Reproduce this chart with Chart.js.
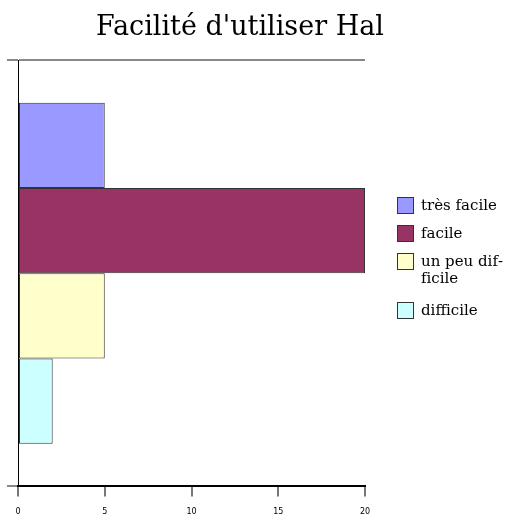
<!DOCTYPE html>
<html>
<head>
<meta charset="utf-8">
<title>Facilité d'utiliser Hal</title>
<script src="https://cdn.jsdelivr.net/npm/chart.js@4.4.1/dist/chart.umd.min.js"></script>
<style>
  body { margin: 0; background: #fff; overflow: hidden; }
  #wrap { position: relative; width: 523px; height: 515px; }
  #title {
    position: absolute; left: 0; top: 10px; width: 480px;
    text-align: center; font: 27px "DejaVu Serif", serif; color: #000;
  }
  #legend {
    position: absolute; left: 397px; top: 197px;
    font: 15px "DejaVu Serif", serif; color: #000; line-height: 17px;
  }
  .item { display: flex; align-items: flex-start; margin-bottom: 11px; }
  .item:nth-child(3) { margin-bottom: 15px; }
  .box { width: 15px; height: 15px; border: 1px solid #333; margin-right: 7px; flex: none; }
  .txt { max-width: 95px; }
</style>
</head>
<body>
<div id="wrap">
  <canvas id="chart"></canvas>
  <div id="title">Facilité d'utiliser Hal</div>
  <div id="legend"></div>
</div>
<script>
// one category, one dataset per answer
const seriesNames = ["très facile", "facile", "un peu dif\u00ADficile", "difficile"];
const seriesValues = [5, 20, 5, 2];
const seriesColors = ["#9999ff", "#993366", "#ffffcc", "#ccffff"];
const xTicks = [0, 5, 10, 15, 20];

const datasets = seriesNames.map((name, i) => ({
  label: name,
  data: [seriesValues[i]],
  backgroundColor: seriesColors[i],
  borderColor: "#333",
  borderWidth: 1,
  borderSkipped: false,
  categoryPercentage: 0.8,
  barPercentage: 1.0,
}));

const chart = new Chart(document.getElementById("chart"), {
  type: "bar",
  data: { labels: [""], datasets },
  options: {
    indexAxis: "y",
    responsive: true,
    maintainAspectRatio: false,
    animation: false,
    layout: { padding: { left: 7, top: 60, right: 158, bottom: -13 } },
    plugins: {
      legend: { display: false },
      title: { display: false },
    },
    scales: {
      x: {
        min: xTicks[0],
        max: xTicks[xTicks.length - 1],
        afterBuildTicks: (axis) => { axis.ticks = xTicks.map((v) => ({ value: v })); },
        ticks: {
          color: "#000",
          padding: 11,
          font: { family: "DejaVu Sans", size: 8 },
        },
        grid: { drawOnChartArea: false, color: "#777", lineWidth: 2, tickLength: 10 },
        border: { color: "#000", width: 2 },
      },
      y: {
        ticks: { display: false },
        grid: { offset: true, color: "#888", lineWidth: 2, tickLength: 11 },
        border: { color: "#000", width: 1 },
      },
    },
  },
});

// html legend, built from the chart's datasets
const legendEl = document.getElementById("legend");
chart.data.datasets.forEach((ds) => {
  const item = document.createElement("div");
  item.className = "item";
  const box = document.createElement("span");
  box.className = "box";
  box.style.background = ds.backgroundColor;
  const txt = document.createElement("span");
  txt.className = "txt";
  txt.textContent = ds.label;
  item.appendChild(box);
  item.appendChild(txt);
  legendEl.appendChild(item);
});
</script>
</body>
</html>
